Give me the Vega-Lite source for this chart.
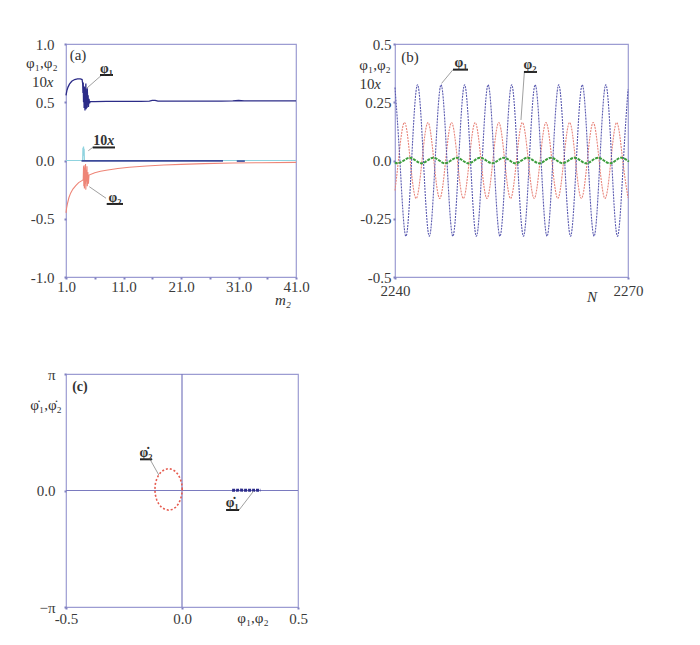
{
"$schema":"https://vega.github.io/schema/vega-lite/v6.json",
"autosize":{"type":"none"},
"padding":{"left":66,"top":44,"right":634,"bottom":601},
"background":"white",
"config":{"view":{"stroke":"#9c9cd2","strokeWidth":1.2},"axis":{"domain":false,"ticks":true,"tickSize":2,"tickWidth":2,"tickColor":"#8080c0","grid":false,"labelFont":"Liberation Serif","labelFontSize":15,"labelColor":"#3a3a3a","labelOverlap":false}},
"datasets":{
"aphi1":[{"x":1.0,"y":0.56},{"x":1.15,"y":0.6},{"x":1.35,"y":0.63},{"x":1.6,"y":0.655},{"x":2.0,"y":0.68},{"x":2.5,"y":0.695},{"x":3.0,"y":0.7},{"x":3.5,"y":0.7},{"x":3.8,"y":0.695},{"x":3.9,"y":0.66},{"x":3.95,"y":0.58},{"x":4.0,"y":0.67},{"x":4.05,"y":0.5},{"x":4.1,"y":0.64},{"x":4.15,"y":0.45},{"x":4.2,"y":0.63},{"x":4.3,"y":0.43},{"x":4.35,"y":0.6},{"x":4.4,"y":0.47},{"x":4.45,"y":0.66},{"x":4.5,"y":0.44},{"x":4.6,"y":0.58},{"x":4.65,"y":0.45},{"x":4.7,"y":0.62},{"x":4.8,"y":0.48},{"x":4.85,"y":0.56},{"x":4.9,"y":0.46},{"x":5.0,"y":0.53},{"x":5.1,"y":0.49},{"x":5.2,"y":0.505},{"x":6,"y":0.505},{"x":8,"y":0.507},{"x":10,"y":0.507},{"x":12,"y":0.508},{"x":14,"y":0.508},{"x":15.5,"y":0.51},{"x":16,"y":0.516},{"x":16.5,"y":0.516},{"x":17,"y":0.509},{"x":20,"y":0.509},{"x":24,"y":0.51},{"x":28,"y":0.51},{"x":30,"y":0.512},{"x":31,"y":0.515},{"x":32,"y":0.511},{"x":36,"y":0.511},{"x":41,"y":0.511}],
"aphi2":[{"x":1.0,"y":-0.45},{"x":1.1,"y":-0.41},{"x":1.25,"y":-0.37},{"x":1.5,"y":-0.32},{"x":1.8,"y":-0.28},{"x":2.2,"y":-0.245},{"x":2.7,"y":-0.215},{"x":3.2,"y":-0.19},{"x":3.7,"y":-0.175},{"x":4.0,"y":-0.165},{"x":4.05,"y":-0.05},{"x":4.1,"y":-0.22},{"x":4.15,"y":-0.04},{"x":4.2,"y":-0.24},{"x":4.3,"y":-0.06},{"x":4.35,"y":-0.2},{"x":4.4,"y":-0.03},{"x":4.45,"y":-0.25},{"x":4.5,"y":-0.08},{"x":4.6,"y":-0.18},{"x":4.65,"y":-0.05},{"x":4.7,"y":-0.22},{"x":4.8,"y":-0.1},{"x":4.9,"y":-0.2},{"x":5.0,"y":-0.125},{"x":6,"y":-0.105},{"x":7,"y":-0.093},{"x":8,"y":-0.083},{"x":10,"y":-0.068},{"x":12,"y":-0.058},{"x":15,"y":-0.047},{"x":18,"y":-0.039},{"x":21,"y":-0.033},{"x":25,"y":-0.027},{"x":30,"y":-0.022},{"x":35,"y":-0.019},{"x":41,"y":-0.016}],
"a10":[{"x":1,"y":0},{"x":3.9,"y":0},{"x":3.95,"y":0.11},{"x":4.0,"y":0.05},{"x":4.05,"y":0.12},{"x":4.1,"y":0.04},{"x":4.15,"y":0.1},{"x":4.2,"y":0},{"x":41,"y":0}],
"ab0":[{"x":3.7,"y":-0.003,"g":1},{"x":28.3,"y":-0.003,"g":1},{"x":30.7,"y":-0.005,"g":2},{"x":32.1,"y":-0.005,"g":2}],
"ar":[{"x":7.09,"y":0.728,"x2":4.6,"y2":0.62},{"x":5.64,"y":0.112,"x2":4.88,"y2":0.084},{"x":7.96,"y":-0.324,"x2":5.05,"y2":-0.225}],
"au":[{"x":6.91,"y":0.734,"x2":9.17,"y2":0.734},{"x":5.64,"y":0.112,"x2":9.52,"y2":0.112},{"x":8.08,"y":-0.373,"x2":10.91,"y2":-0.373}],
"at":[{"x":3.09,"y":0.906,"t":"(a)"},{"x":-3.2,"y":0.837,"t":"φ₁,φ₂"},{"x":-3.61,"y":0.674,"t":"10"}],
"ati":[{"x":-1.78,"y":0.674,"t":"x"},{"x":38.74,"y":-1.197,"t":"m₂"}],
"atb":[{"x":8.04,"y":0.755,"t":"φ₁"},{"x":6.97,"y":0.129,"t":"10"},{"x":9.52,"y":-0.352,"t":"φ₂"}],
"atbi":[{"x":8.77,"y":0.129,"t":"x"}],
"b1":[{"x":2240,"y":0.313},{"x":2240.63,"y":0},{"x":2241.39,"y":-0.325},{"x":2242.14,"y":0},{"x":2242.9,"y":0.325},{"x":2243.66,"y":0},{"x":2244.42,"y":-0.325},{"x":2245.17,"y":0},{"x":2245.93,"y":0.325},{"x":2246.69,"y":0},{"x":2247.45,"y":-0.325},{"x":2248.2,"y":0},{"x":2248.96,"y":0.325},{"x":2249.72,"y":0},{"x":2250.48,"y":-0.325},{"x":2251.23,"y":0},{"x":2251.99,"y":0.325},{"x":2252.75,"y":0},{"x":2253.51,"y":-0.325},{"x":2254.26,"y":0},{"x":2255.02,"y":0.325},{"x":2255.78,"y":0},{"x":2256.54,"y":-0.325},{"x":2257.29,"y":0},{"x":2258.05,"y":0.325},{"x":2258.81,"y":0},{"x":2259.57,"y":-0.325},{"x":2260.32,"y":0},{"x":2261.08,"y":0.325},{"x":2261.84,"y":0},{"x":2262.6,"y":-0.325},{"x":2263.35,"y":0},{"x":2264.11,"y":0.325},{"x":2264.87,"y":0},{"x":2265.63,"y":-0.325},{"x":2266.38,"y":0},{"x":2267.14,"y":0.325},{"x":2267.9,"y":0},{"x":2268.66,"y":-0.325},{"x":2269.41,"y":0},{"x":2270,"y":0.305}],
"b2":[{"x":2240,"y":-0.129},{"x":2240.44,"y":0},{"x":2241.2,"y":0.163},{"x":2241.96,"y":0},{"x":2242.72,"y":-0.163},{"x":2243.48,"y":0},{"x":2244.24,"y":0.163},{"x":2245,"y":0},{"x":2245.76,"y":-0.163},{"x":2246.52,"y":0},{"x":2247.28,"y":0.163},{"x":2248.04,"y":0},{"x":2248.8,"y":-0.163},{"x":2249.56,"y":0},{"x":2250.32,"y":0.163},{"x":2251.08,"y":0},{"x":2251.84,"y":-0.163},{"x":2252.6,"y":0},{"x":2253.36,"y":0.163},{"x":2254.12,"y":0},{"x":2254.88,"y":-0.163},{"x":2255.64,"y":0},{"x":2256.4,"y":0.163},{"x":2257.16,"y":0},{"x":2257.92,"y":-0.163},{"x":2258.68,"y":0},{"x":2259.44,"y":0.163},{"x":2260.2,"y":0},{"x":2260.96,"y":-0.163},{"x":2261.72,"y":0},{"x":2262.48,"y":0.163},{"x":2263.24,"y":0},{"x":2264,"y":-0.163},{"x":2264.76,"y":0},{"x":2265.52,"y":0.163},{"x":2266.28,"y":0},{"x":2267.04,"y":-0.163},{"x":2267.8,"y":0},{"x":2268.56,"y":0.163},{"x":2269.32,"y":0},{"x":2270,"y":-0.16}],
"b3":[{"x":2240,"y":-0.008},{"x":2240.38,"y":-0.012},{"x":2241.14,"y":0},{"x":2241.9,"y":0.012},{"x":2242.66,"y":0},{"x":2243.42,"y":-0.012},{"x":2244.17,"y":0},{"x":2244.93,"y":0.012},{"x":2245.69,"y":0},{"x":2246.45,"y":-0.012},{"x":2247.2,"y":0},{"x":2247.96,"y":0.012},{"x":2248.72,"y":0},{"x":2249.48,"y":-0.012},{"x":2250.23,"y":0},{"x":2250.99,"y":0.012},{"x":2251.75,"y":0},{"x":2252.51,"y":-0.012},{"x":2253.26,"y":0},{"x":2254.02,"y":0.012},{"x":2254.78,"y":0},{"x":2255.54,"y":-0.012},{"x":2256.29,"y":0},{"x":2257.05,"y":0.012},{"x":2257.81,"y":0},{"x":2258.57,"y":-0.012},{"x":2259.32,"y":0},{"x":2260.08,"y":0.012},{"x":2260.84,"y":0},{"x":2261.6,"y":-0.012},{"x":2262.35,"y":0},{"x":2263.11,"y":0.012},{"x":2263.87,"y":0},{"x":2264.63,"y":-0.012},{"x":2265.38,"y":0},{"x":2266.14,"y":0.012},{"x":2266.9,"y":0},{"x":2267.66,"y":-0.012},{"x":2268.41,"y":0},{"x":2269.17,"y":0.012},{"x":2269.93,"y":0},{"x":2270,"y":-0.001}],
"br":[{"x":2247.47,"y":0.39,"x2":2246.0,"y2":0.331},{"x":2256.65,"y":0.377,"x2":2256.22,"y2":0.174}],
"bu":[{"x":2247.47,"y":0.39,"x2":2249.4,"y2":0.39},{"x":2256.6,"y":0.38,"x2":2258.28,"y2":0.38}],
"bt":[{"x":2241.93,"y":0.446,"t":"(b)"},{"x":2237.43,"y":0.41,"t":"φ₁,φ₂"},{"x":2236.4,"y":0.328,"t":"10"}],
"bti":[{"x":2237.75,"y":0.328,"t":"x"},{"x":2265.36,"y":-0.586,"t":"N"}],
"btb":[{"x":2248.5,"y":0.403,"t":"φ₁"},{"x":2257.38,"y":0.393,"t":"φ₂"}],
"cell":[{"i":0,"x":0.001,"y":0.03},{"i":1,"x":-0.001,"y":0.175},{"i":2,"x":-0.007,"y":0.31},{"i":3,"x":-0.016,"y":0.425},{"i":4,"x":-0.028,"y":0.515},{"i":5,"x":-0.043,"y":0.57},{"i":6,"x":-0.058,"y":0.59},{"i":7,"x":-0.073,"y":0.57},{"i":8,"x":-0.088,"y":0.515},{"i":9,"x":-0.1,"y":0.425},{"i":10,"x":-0.109,"y":0.31},{"i":11,"x":-0.115,"y":0.175},{"i":12,"x":-0.117,"y":0.03},{"i":13,"x":-0.115,"y":-0.115},{"i":14,"x":-0.109,"y":-0.25},{"i":15,"x":-0.1,"y":-0.365},{"i":16,"x":-0.088,"y":-0.455},{"i":17,"x":-0.073,"y":-0.51},{"i":18,"x":-0.058,"y":-0.53},{"i":19,"x":-0.043,"y":-0.51},{"i":20,"x":-0.028,"y":-0.455},{"i":21,"x":-0.016,"y":-0.365},{"i":22,"x":-0.007,"y":-0.25},{"i":23,"x":-0.001,"y":-0.115}],
"cb1":[{"x":0.216,"y":0.01},{"x":0.235,"y":0.005},{"x":0.25,"y":0.012},{"x":0.27,"y":0.006},{"x":0.29,"y":0.01},{"x":0.31,"y":0.004},{"x":0.325,"y":0.01},{"x":0.338,"y":0.008}],
"cax":[{"x":0,"y":-3.14159265,"x2":0,"y2":3.14159265},{"x":-0.5,"y":0,"x2":0.5,"y2":0}],
"cr":[{"x":-0.136,"y":0.82,"x2":-0.1,"y2":0.418},{"x":0.246,"y":-0.526,"x2":0.309,"y2":-0.013}],
"cu":[{"x":-0.181,"y":0.841,"x2":-0.129,"y2":0.841},{"x":0.19,"y":-0.526,"x2":0.246,"y2":-0.526}],
"ct":[{"x":-0.586,"y":2.306,"t":"φ̇₁,φ̇₂"},{"x":0.306,"y":-3.439,"t":"φ₁,φ₂"}],
"ctb":[{"x":-0.44,"y":2.68,"t":"(c)"},{"x":-0.155,"y":0.903,"t":"φ̇₂"},{"x":0.216,"y":-0.445,"t":"φ̇₁"}]
},
"vconcat":[
{"hconcat":[
{"width":230,"height":233,
"encoding":{
"x":{"field":"x","type":"quantitative","title":null,"scale":{"domain":[1,41],"nice":false,"zero":false},"axis":{"values":[1,6,11,16,21,26,31,36,41],"labelExpr":"(datum.value-1)%10==0?replace(format(datum.value,'.1f'),'−','-'):''","labelFlush":false,"labelPadding":0}},
"y":{"field":"y","type":"quantitative","title":null,"scale":{"domain":[-1,1],"nice":false,"zero":false},"axis":{"values":[-1,-0.5,0,0.5,1],"labelExpr":"replace(format(datum.value,'.1f'),'−','-')","labelPadding":10}}},
"layer":[
{"data":{"name":"a10"},"mark":{"type":"line","color":"#8fd3df","strokeWidth":1.2},"encoding":{}},
{"data":{"name":"ab0"},"mark":{"type":"line","color":"#3b4a9a","strokeWidth":1.6},"encoding":{"detail":{"field":"g"}}},
{"data":{"name":"aphi2"},"mark":{"type":"line","color":"#ee8577","strokeWidth":1.1},"encoding":{}},
{"data":{"name":"aphi1"},"mark":{"type":"line","color":"#2c2c88","strokeWidth":1.3},"encoding":{}},
{"data":{"name":"ar"},"mark":{"type":"rule","color":"#a0a0a0","strokeWidth":1},"encoding":{"x2":{"field":"x2"},"y2":{"field":"y2"}}},
{"data":{"name":"au"},"mark":{"type":"rule","color":"#222222","strokeWidth":2},"encoding":{"x2":{"field":"x2"},"y2":{"field":"y2"}}},
{"data":{"name":"at"},"mark":{"type":"text","font":"Liberation Serif","fontSize":15,"color":"#333333","align":"center","baseline":"middle"},"encoding":{"text":{"field":"t"}}},
{"data":{"name":"ati"},"mark":{"type":"text","font":"Liberation Serif","fontSize":15,"fontStyle":"italic","color":"#333333","align":"center","baseline":"middle"},"encoding":{"text":{"field":"t"}}},
{"data":{"name":"atb"},"mark":{"type":"text","font":"Liberation Serif","fontSize":14,"fontWeight":"bold","color":"#333333","align":"center","baseline":"alphabetic"},"encoding":{"text":{"field":"t"}}},
{"data":{"name":"atbi"},"mark":{"type":"text","font":"Liberation Serif","fontSize":14,"fontWeight":"bold","fontStyle":"italic","color":"#333333","align":"center","baseline":"alphabetic"},"encoding":{"text":{"field":"t"}}}
]},
{"width":233,"height":233,
"encoding":{
"x":{"field":"x","type":"quantitative","title":null,"scale":{"domain":[2240,2270],"nice":false,"zero":false},"axis":{"values":[2240,2270],"format":"d","labelFlush":false,"labelPadding":4}},
"y":{"field":"y","type":"quantitative","title":null,"scale":{"domain":[-0.5,0.5],"nice":false,"zero":false},"axis":{"values":[-0.5,-0.25,0,0.25,0.5],"labelExpr":"datum.value==0.5?'0.5':datum.value==0.25?'0.25':datum.value==0?'0.0':datum.value==-0.25?'-0.25':'-0.5'","labelPadding":2}}},
"layer":[
{"data":{"name":"b2"},"mark":{"type":"line","color":"#e8857b","strokeWidth":1.1,"strokeDash":[2,1],"interpolate":"natural"},"encoding":{}},
{"data":{"name":"b1"},"mark":{"type":"line","color":"#5a5ab0","strokeWidth":1.1,"strokeDash":[2,1],"interpolate":"natural"},"encoding":{}},
{"data":{"name":"b3"},"mark":{"type":"line","color":"#3c9e3c","strokeWidth":2,"strokeDash":[3,1],"interpolate":"natural"},"encoding":{}},
{"data":{"name":"br"},"mark":{"type":"rule","color":"#a0a0a0","strokeWidth":1},"encoding":{"x2":{"field":"x2"},"y2":{"field":"y2"}}},
{"data":{"name":"bu"},"mark":{"type":"rule","color":"#222222","strokeWidth":2},"encoding":{"x2":{"field":"x2"},"y2":{"field":"y2"}}},
{"data":{"name":"bt"},"mark":{"type":"text","font":"Liberation Serif","fontSize":15,"color":"#333333","align":"center","baseline":"middle"},"encoding":{"text":{"field":"t"}}},
{"data":{"name":"bti"},"mark":{"type":"text","font":"Liberation Serif","fontSize":15,"fontStyle":"italic","color":"#333333","align":"center","baseline":"middle"},"encoding":{"text":{"field":"t"}}},
{"data":{"name":"btb"},"mark":{"type":"text","font":"Liberation Serif","fontSize":14,"fontWeight":"bold","color":"#333333","align":"center","baseline":"alphabetic"},"encoding":{"text":{"field":"t"}}}
]}
],"spacing":99,"bounds":"flush"},
{"width":232,"height":233,
"encoding":{
"x":{"field":"x","type":"quantitative","title":null,"scale":{"domain":[-0.5,0.5],"nice":false,"zero":false},"axis":{"values":[-0.5,0,0.5],"labelExpr":"replace(format(datum.value,'.1f'),'−','-')","labelFlush":false,"labelPadding":2}},
"y":{"field":"y","type":"quantitative","title":null,"scale":{"domain":[-3.14159265,3.14159265],"nice":false,"zero":false},"axis":{"values":[-3.14159265,0,3.14159265],"labelExpr":"datum.value>3?'π':datum.value<-3?'−π':'0.0'","labelPadding":9}}},
"layer":[
{"data":{"name":"cax"},"mark":{"type":"rule","color":"#7a7abf","strokeWidth":1.2},"encoding":{"x2":{"field":"x2"},"y2":{"field":"y2"}}},
{"data":{"name":"cell"},"mark":{"type":"line","color":"#e65c50","strokeWidth":1.6,"strokeDash":[2,2],"interpolate":"linear-closed"},"encoding":{"order":{"field":"i"}}},
{"data":{"name":"cb1"},"mark":{"type":"line","color":"#2c2c8a","strokeWidth":3,"strokeDash":[3,1]},"encoding":{}},
{"data":{"name":"cr"},"mark":{"type":"rule","color":"#a0a0a0","strokeWidth":1},"encoding":{"x2":{"field":"x2"},"y2":{"field":"y2"}}},
{"data":{"name":"cu"},"mark":{"type":"rule","color":"#222222","strokeWidth":2},"encoding":{"x2":{"field":"x2"},"y2":{"field":"y2"}}},
{"data":{"name":"ct"},"mark":{"type":"text","font":"Liberation Serif","fontSize":15,"color":"#333333","align":"center","baseline":"middle"},"encoding":{"text":{"field":"t"}}},
{"data":{"name":"ctb"},"mark":{"type":"text","font":"Liberation Serif","fontSize":14,"fontWeight":"bold","color":"#333333","align":"center","baseline":"alphabetic"},"encoding":{"text":{"field":"t"}}}
]}
],
"spacing":330,"bounds":"flush"
}
